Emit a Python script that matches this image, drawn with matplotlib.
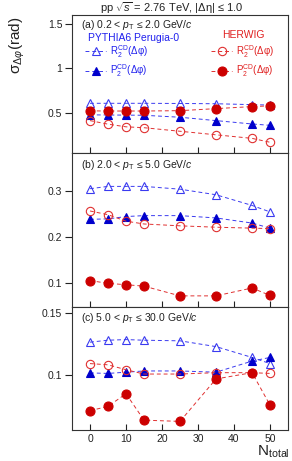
import matplotlib
matplotlib.use("Agg")
import matplotlib.pyplot as plt
from matplotlib.lines import Line2D

plt.rcParams['font.family'] = ['Liberation Sans', 'DejaVu Sans']
plt.rcParams['mathtext.fontset'] = 'custom'
plt.rcParams['mathtext.rm'] = 'Liberation Sans'
plt.rcParams['mathtext.it'] = 'Liberation Sans:italic'
plt.rcParams['mathtext.bf'] = 'Liberation Sans:bold'

n_total = [0, 5, 10, 15, 25, 35, 45, 50]

# panel a: 0.2 < pT <= 2.0
a_pyth_R2 = [0.605, 0.605, 0.605, 0.605, 0.603, 0.600, 0.590, 0.585]
a_pyth_P2 = [0.475, 0.473, 0.472, 0.470, 0.448, 0.410, 0.372, 0.357]
a_herw_R2 = [0.410, 0.370, 0.340, 0.330, 0.290, 0.250, 0.210, 0.166]
a_herw_P2 = [0.520, 0.518, 0.518, 0.518, 0.522, 0.545, 0.568, 0.576]

# panel b: 2.0 < pT <= 5.0
b_pyth_R2 = [0.304, 0.309, 0.309, 0.309, 0.303, 0.291, 0.268, 0.254]
b_pyth_P2 = [0.238, 0.239, 0.244, 0.246, 0.246, 0.241, 0.230, 0.219]
b_herw_R2 = [0.256, 0.248, 0.234, 0.228, 0.224, 0.221, 0.219, 0.218]
b_herw_P2 = [0.106, 0.100, 0.097, 0.094, 0.073, 0.073, 0.090, 0.074]

# panel c: 5.0 < pT <= 30.0
c_pyth_R2 = [0.1264, 0.1280, 0.1285, 0.1280, 0.1275, 0.1228, 0.1140, 0.1090]
c_pyth_P2 = [0.1014, 0.1010, 0.1020, 0.1030, 0.1030, 0.1020, 0.1110, 0.1140]
c_herw_R2 = [0.1090, 0.1080, 0.1040, 0.1005, 0.1005, 0.1016, 0.1016, 0.1010]
c_herw_P2 = [0.0707, 0.0742, 0.0845, 0.0630, 0.0620, 0.0965, 0.1016, 0.0753]

panel_labels = [r"(a) 0.2 < $p_{\rm T}$ ≤ 2.0 GeV/$c$",
                r"(b) 2.0 < $p_{\rm T}$ ≤ 5.0 GeV/$c$",
                r"(c) 5.0 < $p_{\rm T}$ ≤ 30.0 GeV/$c$"]
ylims = [(0.045, 1.6), (0.049, 0.381), (0.055, 0.155)]
yticks = [[0.5, 1.0, 1.5], [0.1, 0.2, 0.3], [0.1, 0.15]]
yticklabels = [["0.5", "1", "1.5"], ["0.1", "0.2", "0.3"], ["0.1", "0.15"]]
xticks = [0, 10, 20, 30, 40, 50]

blue = '#0000cc'
blue_l = '#3a3af0'
red = '#cc0000'
red_l = '#e03030'
ls = (0, (4, 3))

fig = plt.figure(figsize=(2.92, 4.61), dpi=100)
L, R = 72 / 292, 288 / 292
edges = [15, 153, 307, 430]
axes = []
for i in range(3):
    top = 1 - edges[i] / 461
    bot = 1 - edges[i + 1] / 461
    ax = fig.add_axes([L, bot, R - L, top - bot])
    axes.append(ax)

data = [
    (a_pyth_R2, a_pyth_P2, a_herw_R2, a_herw_P2),
    (b_pyth_R2, b_pyth_P2, b_herw_R2, b_herw_P2),
    (c_pyth_R2, c_pyth_P2, c_herw_R2, c_herw_P2),
]

ms_t = 5.5
ms_c = 6.0
for i, ax in enumerate(axes):
    pR, pP, hR, hP = data[i]
    ax.plot(n_total, pR, linestyle=ls, color=blue_l, lw=0.7, marker='^',
            ms=ms_t, mfc='none', mec=blue_l, mew=0.8)
    ax.plot(n_total, pP, linestyle=ls, color=blue_l, lw=0.7, marker='^',
            ms=ms_t, mfc=blue, mec=blue, mew=0.8)
    ax.plot(n_total, hR, linestyle=ls, color=red_l, lw=0.7, marker='o',
            ms=ms_c, mfc='none', mec=red_l, mew=0.8)
    ax.plot(n_total, hP, linestyle=ls, color=red_l, lw=0.7, marker='o',
            ms=ms_c + 0.5, mfc=red, mec=red, mew=0.8)
    ax.set_xlim(-5, 55)
    ax.set_ylim(*ylims[i])
    ax.set_yticks(yticks[i])
    ax.set_yticklabels(yticklabels[i])
    ax.set_xticks(xticks)
    ax.tick_params(axis='y', direction='out', length=5, width=0.8,
                   labelsize=7.5, pad=2, colors='#222222')
    ax.tick_params(axis='x', direction='in', length=4, width=0.8,
                   labelsize=7.5, pad=3, colors='#222222')
    if i < 2:
        ax.tick_params(axis='x', labelbottom=False)
    for s in ax.spines.values():
        s.set_linewidth(0.8)
        s.set_color('#333333')
    ytop = 0.978 if i == 0 else 0.965
    ax.text(0.04, ytop, panel_labels[i], transform=ax.transAxes,
            ha='left', va='top', fontsize=7.5, color='#222222')

ax = axes[0]
h1 = Line2D([], [], linestyle=ls, color=blue_l, lw=0.7, marker='^', ms=ms_t,
            mfc='none', mec=blue_l, mew=0.8)
h2 = Line2D([], [], linestyle=ls, color=blue_l, lw=0.7, marker='^', ms=ms_t,
            mfc=blue, mec=blue, mew=0.8)
h3 = Line2D([], [], linestyle=ls, color=red_l, lw=0.7, marker='o', ms=ms_c,
            mfc='none', mec=red_l, mew=0.8)
h4 = Line2D([], [], linestyle=ls, color=red_l, lw=0.7, marker='o', ms=ms_c + 0.5,
            mfc=red, mec=red, mew=0.8)
lab_R = r"R$_2^{\rm CD}$(Δφ)"
lab_P = r"P$_2^{\rm CD}$(Δφ)"

ax.text((88 - 72) / 216, 1 - (38 - 15) / 138, "PYTHIA6 Perugia-0",
        transform=ax.transAxes, ha='left', va='center', fontsize=7.5,
        color='#2020ee')
ax.text((243 - 72) / 216, 1 - (35 - 15) / 138, "HERWIG",
        transform=ax.transAxes, ha='center', va='center', fontsize=7.5,
        color='#e02020')

leg_kw = dict(frameon=False, fontsize=7, numpoints=1, handlelength=2.2,
              handletextpad=0.35, labelspacing=0.25, borderpad=0,
              borderaxespad=0)
y_mid = 1 - (61 - 15) / 138
leg1 = ax.legend([h1, h2], [lab_R, lab_P], loc='center left',
                 bbox_to_anchor=((85 - 72) / 216, y_mid), **leg_kw)
for t in leg1.get_texts():
    t.set_color('#2020ee')
ax.add_artist(leg1)
leg2 = ax.legend([h3, h4], [lab_R, lab_P], loc='center left',
                 bbox_to_anchor=((211 - 72) / 216, y_mid), **leg_kw)
for t in leg2.get_texts():
    t.set_color('#e02020')

fig.text(172 / 292, 1 - 8 / 461, r"pp $\sqrt{s}$ = 2.76 TeV, |Δη| ≤ 1.0",
         ha='center', va='center', fontsize=8, color='#222222')
fig.text(0.06, 1 - 17 / 461, r"σ$_{Δφ}$(rad)", rotation=90, ha='center',
         va='top', fontsize=11, color='#222222')
fig.text(R + 0.005, 1 - 460 / 461, r"N$_{\rm total}$", ha='right', va='bottom',
         fontsize=11, color='#222222')

fig.savefig("out.png", dpi=100)
